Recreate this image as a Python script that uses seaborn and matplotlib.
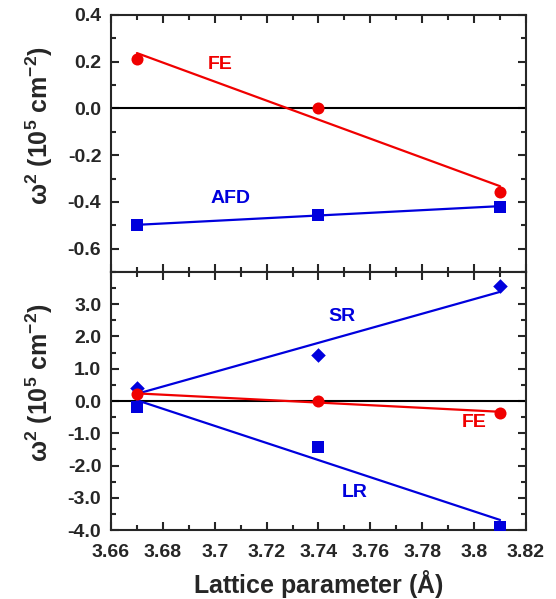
import numpy as np
import pandas as pd
import matplotlib
matplotlib.use('Agg')
import matplotlib.pyplot as plt
import seaborn as sns
from matplotlib.ticker import MultipleLocator

sns.set_style('ticks')
plt.rcParams['font.family'] = ['Liberation Sans', 'DejaVu Sans']
plt.rcParams['font.weight'] = 'bold'
plt.rcParams['mathtext.fontset'] = 'custom'
plt.rcParams['mathtext.rm'] = 'Liberation Sans'
plt.rcParams['mathtext.it'] = 'Liberation Sans:bold'
plt.rcParams['mathtext.bf'] = 'Liberation Sans:bold'

# lattice parameters (Angstrom)
lattice = [3.67, 3.74, 3.81]

# omega^2 in 10^5 cm^-2
fe = [0.213, 0.0, -0.357]
afd = [-0.50, -0.455, -0.42]
sr = [0.41, 1.43, 3.57]
lr = [-0.18, -1.42, -3.89]

red = '#f00000'
blue = '#0000dd'

fig = plt.figure(figsize=(5.56, 5.99), dpi=100)
ax1 = fig.add_axes([0.1996, 0.546, 0.7464, 0.429])
ax2 = fig.add_axes([0.1996, 0.115, 0.7464, 0.431])


def fit_line(ax, y, color):
    k, b = np.polyfit(lattice, y, 1)
    xs = np.array([lattice[0], lattice[-1]])
    sns.lineplot(x=xs, y=k * xs + b, color=color, lw=1.6, ax=ax)


def points(ax, y, color, marker, size):
    sns.scatterplot(x=lattice, y=y, color=color, marker=marker, s=size,
                    edgecolor=color, linewidth=0, ax=ax, zorder=5)


for ax in (ax1, ax2):
    ax.axhline(0, color='black', lw=1.5, zorder=1)

# top panel
fit_line(ax1, fe, red)
points(ax1, fe, red, 'o', 75)
fit_line(ax1, afd, blue)
points(ax1, afd, blue, 's', 65)
ax1.text(3.702, 0.187, 'FE', color=red, fontsize=14, fontweight='bold', ha='center', va='center')
ax1.text(3.706, -0.387, 'AFD', color=blue, fontsize=14, fontweight='bold', ha='center', va='center')
ax1.set_ylim(-0.7, 0.4)
ax1.yaxis.set_minor_locator(MultipleLocator(0.1))
ax1.set_yticks([-0.6, -0.4, -0.2, 0.0, 0.2, 0.4])
ax1.set_yticklabels(['-0.6', '-0.4', '-0.2', '0.0', '0.2', '0.4'])

# bottom panel
fit_line(ax2, sr, blue)
points(ax2, sr, blue, 'D', 55)
fit_line(ax2, fe, red)
points(ax2, fe, red, 'o', 75)
fit_line(ax2, lr, blue)
points(ax2, lr, blue, 's', 65)
ax2.text(3.749, 2.63, 'SR', color=blue, fontsize=14, fontweight='bold', ha='center', va='center')
ax2.text(3.800, -0.67, 'FE', color=red, fontsize=14, fontweight='bold', ha='center', va='center')
ax2.text(3.754, -2.83, 'LR', color=blue, fontsize=14, fontweight='bold', ha='center', va='center')
ax2.set_ylim(-4.0, 4.0)
ax2.yaxis.set_minor_locator(MultipleLocator(0.5))
ax2.set_yticks([-4, -3, -2, -1, 0, 1, 2, 3])
ax2.set_yticklabels(['-4.0', '-3.0', '-2.0', '-1.0', '0.0', '1.0', '2.0', '3.0'])

ylab = r'$\mathbf{\omega^2}$ (10$^\mathbf{5}$ cm$^\mathbf{-2}$)'
for ax in (ax1, ax2):
    ax.set_xlim(3.66, 3.82)
    ax.xaxis.set_major_locator(MultipleLocator(0.02))
    ax.xaxis.set_minor_locator(MultipleLocator(0.01))
    ax.tick_params(which='both', direction='in', top=True, right=True, width=1.5)
    ax.tick_params(which='major', length=6, labelsize=14)
    ax.tick_params(which='minor', length=3.5)
    ax.tick_params(axis='y', pad=7)
    ax.tick_params(axis='x', pad=10)
    ax.set_ylabel(ylab, fontsize=18, fontweight='bold', labelpad=9, y=0.57)
    for s in ax.spines.values():
        s.set_linewidth(1.5)
    for t in ax.get_yticklabels():
        t.set_fontweight('bold')

ax1.tick_params(axis='x', labelbottom=False)
ax2.set_xticks([3.66, 3.68, 3.70, 3.72, 3.74, 3.76, 3.78, 3.80, 3.82])
ax2.set_xticklabels(['3.66', '3.68', '3.7', '3.72', '3.74', '3.76', '3.78', '3.8', '3.82'],
                    fontweight='bold')
ax2.set_xlabel(r'Lattice parameter $\mathrm{(Å)}$', fontsize=18, fontweight='bold', labelpad=5)

fig.savefig('out.png', dpi=100)
